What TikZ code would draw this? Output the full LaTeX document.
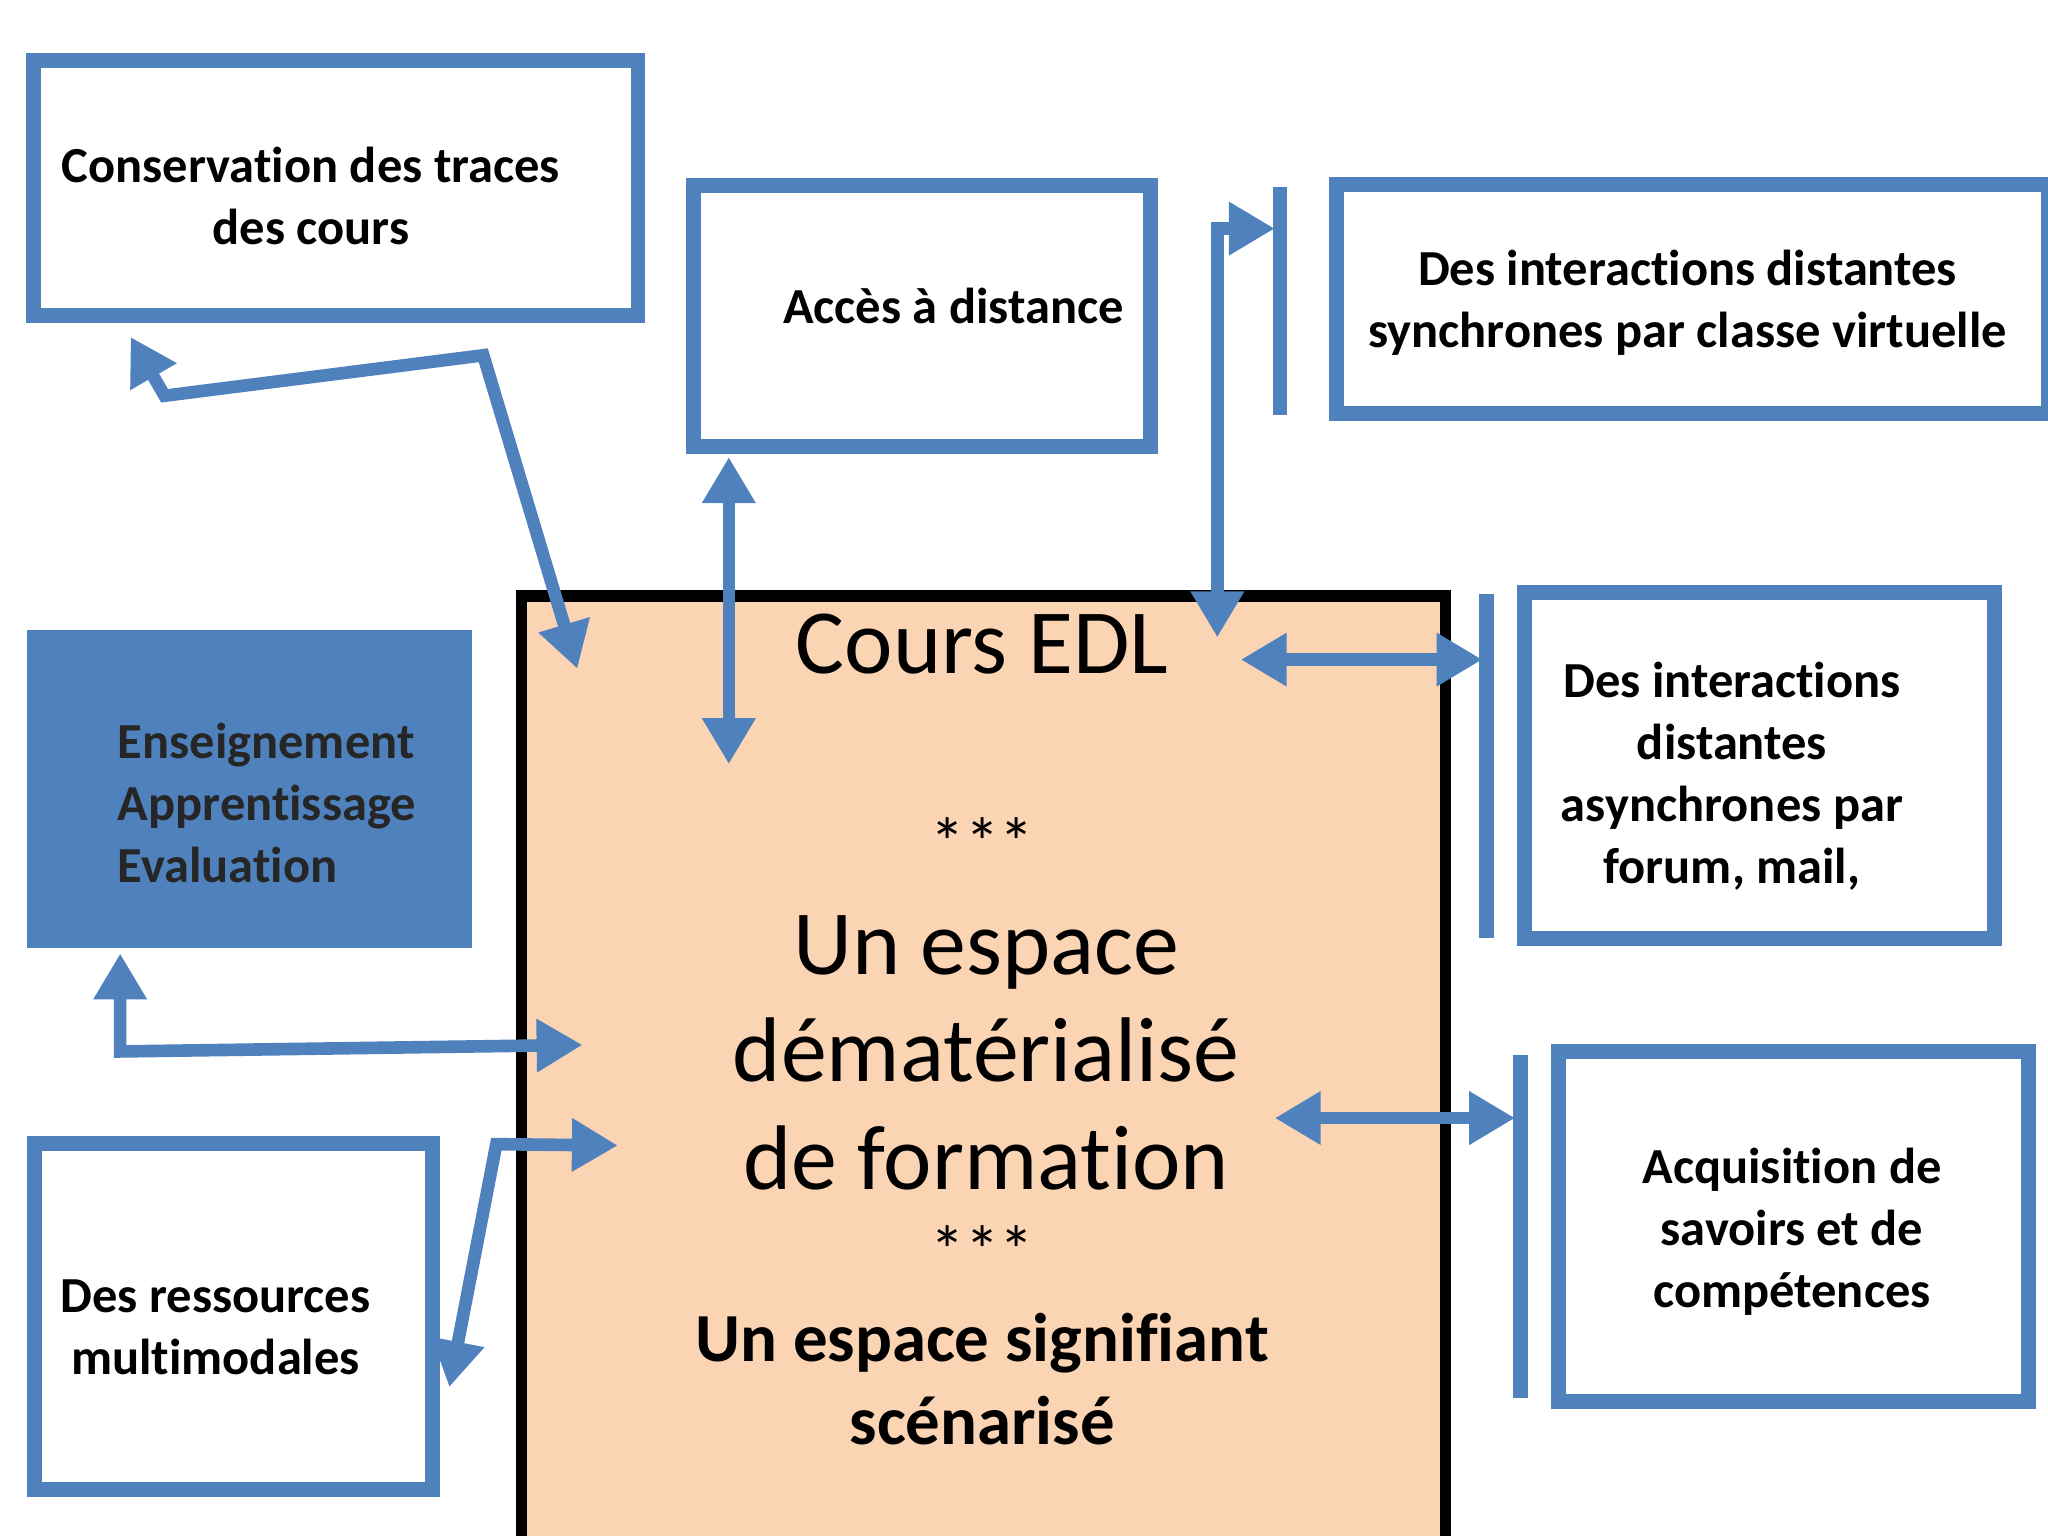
\documentclass[tikz,border=0pt]{standalone}
\usepackage{fontspec}
\setmainfont{Carlito}[Ligatures={NoCommon}]
\usetikzlibrary{arrows.meta}
\definecolor{bl}{HTML}{4F81BD}
\definecolor{peach}{HTML}{FBD4B4}
\tikzset{
 box/.style={draw=bl,line width=6.5pt,fill=white,inner sep=0pt},
 fbox/.style={draw=bl,fill=bl,line width=6.5pt,inner sep=0pt},
 bar/.style={draw=bl,line width=6.5pt},
 txt/.style={font=\bfseries\fontsize{22}{27}\selectfont,align=center},
 arr/.style={draw=bl,line width=5.5pt,{Triangle[length=20pt,width=22pt]}-{Triangle[length=20pt,width=22pt]}},
}
\begin{document}
\begin{tikzpicture}[x=0.02cm,y=-0.02cm]
\useasboundingbox (0,0) rectangle (1568,1176);
\fill[white] (0,0) rectangle (1568,1176);
% main box
\node[draw=black,line width=5pt,fill=peach,minimum width=14.15cm,minimum height=15cm,anchor=north west] (main) at (395,452) {};
% boxes
\node[box,minimum width=9.26cm,minimum height=3.9cm] (cons) at (257,144) {};
\node[txt] (tcons) at (238,150) {Conservation des traces\\des cours};
\node[box,minimum width=7.0cm,minimum height=4.0cm] (acc) at (706,242) {};
\node[txt] (tacc) at (730,234) {Accès à distance};
\node[box,minimum width=10.9cm,minimum height=3.5cm] (sync) at (1296,229) {};
\node[txt] (tsync) at (1292,232) {Des interactions distantes\\synchrones par classe virtuelle};
\node[box,minimum width=7.2cm,minimum height=5.3cm] (async) at (1347,586) {};
\node[txt] (tasync) at (1326,594) {Des interactions\\distantes\\asynchrones par\\forum, mail,};
\node[box,minimum width=7.2cm,minimum height=5.35cm] (acq) at (1373,939) {};
\node[txt] (tacq) at (1372,943) {Acquisition de\\savoirs et de\\compétences};
\node[fbox,minimum width=6.6cm,minimum height=4.65cm] (ens) at (191,604) {};
\node[txt,align=left,anchor=west,text=black!85] (tens) at (84,615) {Enseignement\\Apprentissage\\Evaluation};
\node[box,minimum width=6.1cm,minimum height=5.3cm] (res) at (179,1008) {};
\node[txt] (tres) at (165,1016) {Des ressources\\multimodales};
% bars
\draw[bar] (980,143) -- (980,318);
\draw[bar] (1138,455) -- (1138,718);
\draw[bar] (1164,808) -- (1164,1070);
% main texts
\node[font=\fontsize{40}{40}\selectfont] (t1) at (752,493) {Cours EDL};
\node[font=\fontsize{30}{30}\selectfont] (t2) at (752,645) {***};
\node[font=\fontsize{40}{47}\selectfont,align=center] (t3) at (755,806) {Un espace\\dématérialisé\\de formation};
\node[font=\fontsize{30}{30}\selectfont] (t4) at (752,957) {***};
\node[font=\bfseries\fontsize{30}{36}\selectfont,align=center] (t5) at (752,1056) {Un espace signifiant\\scénarisé};
% arrows
\coordinate (a1) at (442,512); \coordinate (a2) at (370,272); \coordinate (a3) at (126,303); \coordinate (a4) at (100,258);
\draw[arr] (a1) -- (a2) -- (a3) -- (a4);
\coordinate (b1) at (558,350); \coordinate (b2) at (558,585);
\draw[arr] (b1) -- (b2);
\coordinate (c1) at (932,488); \coordinate (c2) at (932,175); \coordinate (c3) at (976,175);
\draw[arr] (c1) -- (c2) -- (c3);
\coordinate (d1) at (950,505); \coordinate (d2) at (1135,505);
\draw[arr] (d1) -- (d2);
\coordinate (e1) at (976,856); \coordinate (e2) at (1160,856);
\draw[arr] (e1) -- (e2);
\coordinate (f1) at (92,730); \coordinate (f2) at (92,805); \coordinate (f3) at (446,800);
\draw[arr] (f1) -- (f2) -- (f3);
\coordinate (g1) at (344,1062); \coordinate (g2) at (380,876); \coordinate (g3) at (473,877);
\draw[arr] (g1) -- (g2) -- (g3);
\end{tikzpicture}
\end{document}
